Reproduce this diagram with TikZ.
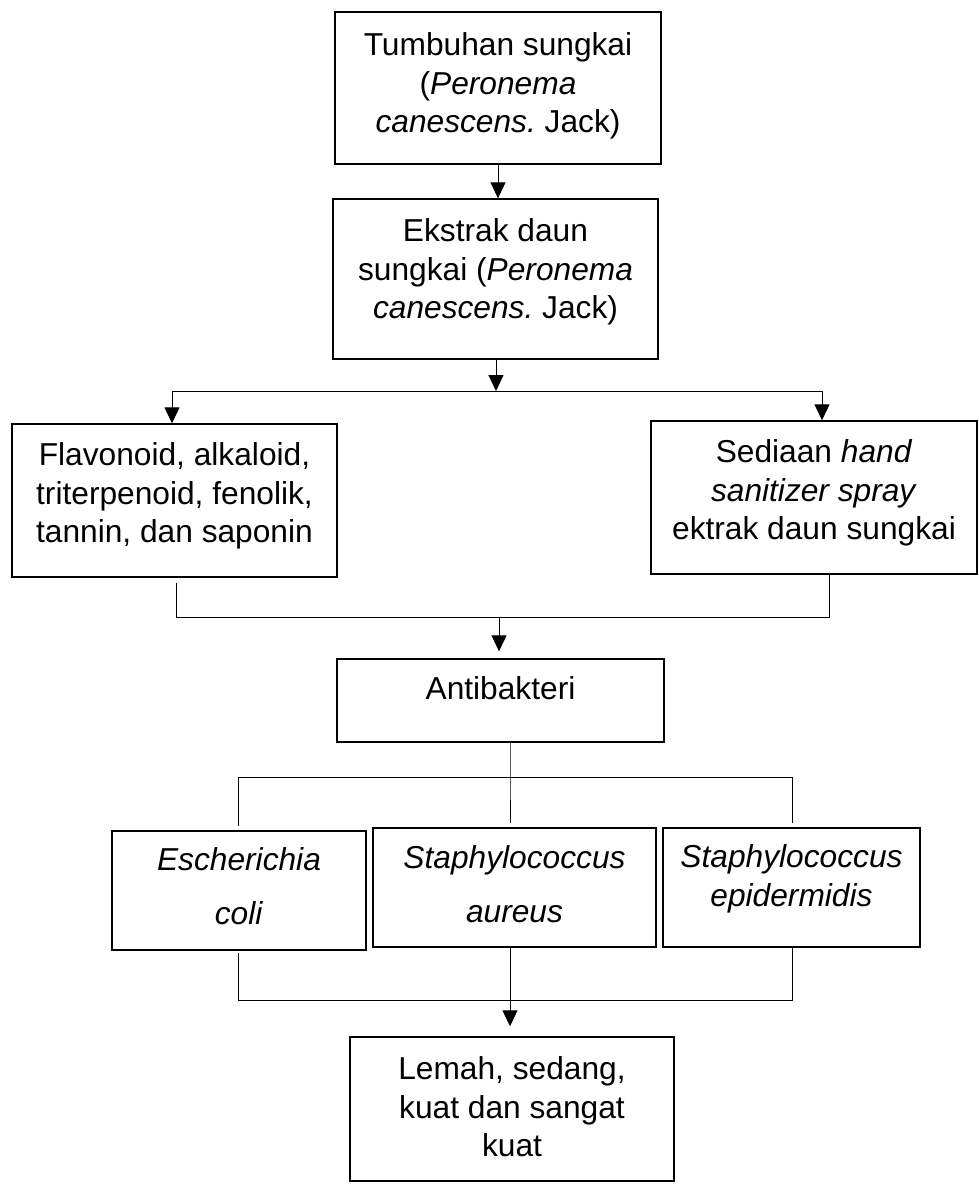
\documentclass[tikz,border=0pt]{standalone}
\usepackage{fontspec}
\setmainfont{Liberation Sans}
\usetikzlibrary{arrows.meta, positioning}
\frenchspacing

\tikzset{
  box/.style 2 args={draw, line width=0.7pt, minimum width=#1, minimum height=#2, inner sep=0pt},
  boxtext/.style={align=center, inner sep=0pt, font=\fontsize{15.85}{19.25}\selectfont},
  link/.style={line width=0.5pt},
  arr/.style={line width=0.5pt, -{Triangle[length=8pt,width=7.5pt]}},
}

\begin{document}
\begin{tikzpicture}[x=0.5pt, y=-0.5pt]
  \useasboundingbox (0,0) rectangle (979,1184);

  % Plant and extract
  \node[box={163pt}{76pt}] (tumbuhan) at (498,88) {};
  \node[boxtext, below=10.5pt of tumbuhan.north] (tumbuhan-txt) {Tumbuhan sungkai\\(\textit{Peronema}\\\textit{canescens.} Jack)};
  \node[box={162.5pt}{80pt}] (ekstrak) at (495.5,279) {};
  \node[boxtext, below=10pt of ekstrak.north] (ekstrak-txt) {Ekstrak daun\\sungkai (\textit{Peronema}\\\textit{canescens.} Jack)};

  % Content and preparation
  \node[box={162.5pt}{76.5pt}] (senyawa) at (174.5,500.5) {};
  \node[boxtext, below=9.5pt of senyawa.north] (senyawa-txt) {Flavonoid, alkaloid,\\triterpenoid, fenolik,\\tannin, dan saponin};
  \node[box={163pt}{76.5pt}] (sediaan) at (814,497.5) {};
  \node[boxtext, below=9.5pt of sediaan.north] (sediaan-txt) {Sediaan \textit{hand}\\\textit{sanitizer spray}\\ektrak daun sungkai};

  % Activity
  \node[box={163.5pt}{41.5pt}] (antibakteri) at (500.5,700.5) {};
  \node[boxtext, below=9pt of antibakteri.north] (antibakteri-txt) {Antibakteri};

  % Bacteria
  \node[box={127pt}{59.5pt}] (ecoli) at (239,890.5) {};
  \node[boxtext, below=8.5pt of ecoli.north] (ecoli-txt) {\textit{Escherichia}\\[7.75pt]\textit{coli}};
  \node[box={141.5pt}{59.5pt}] (saureus) at (514.5,887.5) {};
  \node[boxtext, below=9pt of saureus.north] (saureus-txt) {\textit{Staphylococcus}\\[7.75pt]\textit{aureus}};
  \node[box={128.5pt}{59.5pt}] (sepi) at (791.5,887.5) {};
  \node[boxtext, below=8.5pt of sepi.north] (sepi-txt) {\textit{Staphylococcus}\\\textit{epidermidis}};

  % Result
  \node[box={162pt}{72pt}] (hasil) at (512,1109) {};
  \node[boxtext, below=10pt of hasil.north] (hasil-txt) {Lemah, sedang,\\kuat dan sangat\\kuat};

  % Connectors
  \coordinate (split) at (496,391);
  \coordinate (join) at (499,617);
  \coordinate (split2) at (510,777);
  \coordinate (join2) at (510,1000);

  \draw[arr] (tumbuhan.south) -- (tumbuhan.south |- ekstrak.north);
  \draw[arr] (ekstrak.south -| split) -- (split);
  \draw[arr] (split) -| ([xshift=-1.25pt]senyawa.north);
  \draw[arr] (split) -| ([xshift=4pt]sediaan.north);

  \draw[link] ([xshift=0.75pt,yshift=-2.5pt]senyawa.south) |- (join);
  \draw[link] ([xshift=7.5pt]sediaan.south) |- (join);
  \draw[arr, shorten >=3.5pt] (join) -- (join |- antibakteri.north);

  \draw[link] (antibakteri.south -| split2) -- (split2) -- ([yshift=2pt]saureus.north -| split2);
  \draw[link] (split2) -| ([xshift=-0.5pt,yshift=2pt]ecoli.north);
  \draw[link] (split2) -| ([xshift=0.25pt,yshift=2pt]sepi.north);

  \draw[link] ([xshift=-0.5pt,yshift=-1pt]ecoli.south) |- (join2);
  \draw[link] ([xshift=0.25pt]sepi.south) |- (join2);
  \draw[arr, shorten >=5pt] (saureus.south -| join2) -- (join2 |- hasil.north);
\end{tikzpicture}
\end{document}
